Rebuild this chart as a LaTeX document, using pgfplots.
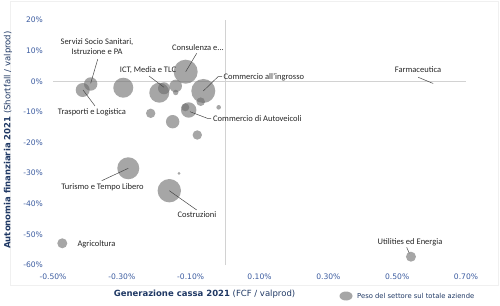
\documentclass[border=0pt]{standalone}
\usepackage{pgfplots}
\pgfplotsset{compat=1.18}
\usepackage{fontspec}
\setmainfont{Carlito}
\newfontfamily\dv{DejaVu Sans}
\definecolor{tickblue}{RGB}{60,92,160}
\definecolor{navy}{RGB}{31,56,100}
\definecolor{bub}{RGB}{107,107,107}
\definecolor{zline}{RGB}{210,210,210}
\definecolor{lead}{RGB}{70,70,70}

\pgfplotstableread{
x y r
-0.3905 -0.90 6.7
-0.4137 -2.86 7.0
-0.2958 -2.11 10.0
-0.1912 -3.74 10.0
-0.1775 -2.30 6.0
-0.1435 -1.55 6.3
-0.1435 -3.67 2.7
-0.1145 3.12 12.0
-0.0633 -3.18 12.0
-0.0709 -6.68 4.3
-0.0186 -8.51 2.3
-0.1058 -9.39 7.7
-0.1156 -8.51 4.0
-0.2162 -10.47 4.7
-0.1523 -13.21 6.7
-0.0808 -17.55 4.7
-0.2813 -28.42 11.0
-0.1339 -30.06 1.5
-0.1621 -35.74 11.7
-0.4730 -52.91 5.0
0.5401 -57.29 5.0
0.6040 -0.67 0.5
}\bubbles

\begin{document}
\begin{tikzpicture}
\useasboundingbox (0pt,0pt) rectangle (500pt,305pt);
\draw[gray!12] (10pt,304pt) rectangle (498pt,20pt);
\begin{axis}[
  at={(53pt,40pt)}, anchor=south west,
  scale only axis, width=413pt, height=245pt,
  xmin=-0.5, xmax=0.7, ymin=-60, ymax=20,
  axis line style={draw=none},
  major tick length=0pt,
  xtick={-0.5,-0.3,-0.1,0.1,0.3,0.5,0.7},
  xticklabels={-0.50\%,-0.30\%,-0.10\%,0.10\%,0.30\%,0.50\%,0.70\%},
  ytick={-60,-50,-40,-30,-20,-10,0,10,20},
  yticklabels={-60\%,-50\%,-40\%,-30\%,-20\%,-10\%,0\%,10\%,20\%},
  tick label style={font=\dv\fontsize{7.6}{9}\selectfont, text=tickblue},
  xticklabel style={yshift=-5pt},
  yticklabel style={xshift=-6.5pt},
  clip=false,
]
\draw[zline, line width=0.7pt] (axis cs:-0.5,0) -- (axis cs:0.7,0);
\draw[zline, line width=0.7pt] (axis cs:0,-60) -- (axis cs:0,20);
\addplot[scatter, only marks, mark=*,
  scatter/use mapped color={draw opacity=0, fill=bub, fill opacity=0.6},
  visualization depends on={\thisrow{r} \as \rr},
  scatter/@pre marker code/.append style={/tikz/mark size=\rr pt}]
  table[x=x, y=y] {\bubbles};
\end{axis}
\begin{scope}[x=1pt, y=1pt, font=\fontsize{8.5}{10}\selectfont]
  \draw[lead, line width=0.5pt] (97.7,245.7) -- (90.7,221.7);
  \node[align=center, inner sep=0, text=black!85] at (97,258) {Servizi Socio Sanitari,\\Istruzione e PA};
  \draw[lead, line width=0.5pt] (83,215) -- (95,199);
  \node[inner sep=0, text=black!85] at (92,193) {Trasporti e Logistica};
  \draw[lead, line width=0.5pt] (149,229) -- (164,217.7);
  \node[inner sep=0, text=black!85] at (148,235) {ICT, Media e TLC};
  \draw[lead, line width=0.5pt] (196.7,251.7) -- (185.7,233.3);
  \node[inner sep=0, text=black!85] at (198,257.3) {Consulenza e...};
  \draw[lead, line width=0.5pt] (222,228.3) -- (218,228.3) -- (203.3,214);
  \node[inner sep=0, anchor=west, text=black!85] at (223.3,227.7) {Commercio all'ingrosso};
  \draw[lead, line width=0.5pt] (190,193.3) -- (207.3,186.7) -- (211,186.7);
  \node[inner sep=0, anchor=west, text=black!85] at (213,186.7) {Commercio di Autoveicoli};
  \draw[lead, line width=0.5pt] (418.3,227.7) -- (432.7,221.7);
  \node[inner sep=0, text=black!85] at (418,235) {Farmaceutica};
  \draw[lead, line width=0.5pt] (101.7,124.3) -- (128.3,136.7);
  \node[inner sep=0, text=black!85] at (102.5,117.3) {Turismo e Tempo Libero};
  \draw[lead, line width=0.5pt] (196.7,95) -- (169.3,114.3);
  \node[inner sep=0, text=black!85] at (197,90.7) {Costruzioni};
  \node[inner sep=0, text=black!85] at (96.5,61) {Agricoltura};
  \draw[lead, line width=0.5pt] (406.7,57.7) -- (409.3,51.7);
  \node[inner sep=0, text=black!85] at (410,62.7) {Utilities ed Energia};
  \node[inner sep=0, text=navy, font=\dv\fontsize{8.5}{10}\selectfont] at (204.5,11) {\bfseries Generazione cassa 2021\mdseries{} (FCF / valprod)};
  \node[inner sep=0, text=navy, rotate=90, font=\dv\fontsize{8.5}{10}\selectfont] at (8,165) {\bfseries Autonomia finanziaria 2021\mdseries{} (Shortfall / valprod)};
  \fill[bub, fill opacity=0.6] (346,9) ellipse [x radius=6.5, y radius=4.5];
  \node[inner sep=0, anchor=west, text=navy, font=\dv\fontsize{6.8}{8}\selectfont] at (357,9) {Peso del settore sul totale aziende};
\end{scope}
\end{tikzpicture}
\end{document}
